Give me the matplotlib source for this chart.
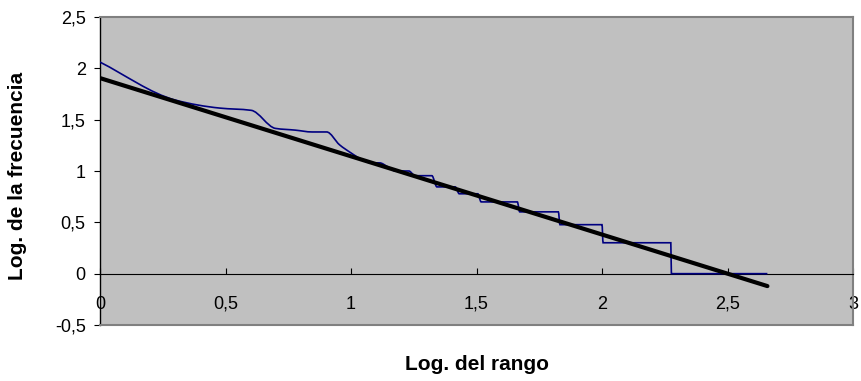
import numpy as np
import matplotlib
matplotlib.use("Agg")
import matplotlib.pyplot as plt
from matplotlib.path import Path
from matplotlib.patches import PathPatch

# Rank/frequency data (run-length coded: each frequency
# value and how many consecutive ranks share it)
freq_values = [115, 49, 41, 39, 26, 25, 24, 24, 18, 15, 13, 12, 11, 10, 9,
               7, 6, 5, 4, 3, 2, 1]
run_lengths = [1, 1, 1, 1, 1, 1, 1, 1, 1, 1, 1, 2, 1, 3, 4,
               5, 6, 14, 21, 33, 88, 268]

# Trend line end points (log rank, log frequency)
trend_x = [0.0, 2.659]
trend_y = [1.905, -0.121]

x_ticks = [0, 0.5, 1, 1.5, 2, 2.5, 3]
y_ticks = [-0.5, 0, 0.5, 1, 1.5, 2, 2.5]

plt.rcParams['font.family'] = ['Liberation Sans', 'DejaVu Sans']

# Expand the runs into one frequency per rank
freq = np.repeat(freq_values, run_lengths)
rank = np.arange(1, len(freq) + 1)
log_rank = np.log10(rank)
log_freq = np.log10(freq)


# Smoothed line (like Excel's "smoothed line") drawn as cubic Bezier pieces
# through the points; tangents are kept monotone so steps don't overshoot
def smooth_path(x, y):
    x = np.asarray(x, float)
    y = np.asarray(y, float)
    d = np.diff(y) / np.diff(x)
    m = np.zeros(len(x))
    m[0] = d[0]
    m[-1] = d[-1]
    for i in range(1, len(x) - 1):
        if d[i - 1] * d[i] > 0:
            m[i] = 2 / (1 / d[i - 1] + 1 / d[i])
    verts = [(x[0], y[0])]
    codes = [Path.MOVETO]
    for i in range(len(x) - 1):
        h = (x[i + 1] - x[i]) / 3
        verts += [(x[i] + h, y[i] + m[i] * h),
                  (x[i + 1] - h, y[i + 1] - m[i + 1] * h),
                  (x[i + 1], y[i + 1])]
        codes += [Path.CURVE4] * 3
    return Path(verts, codes)


fig = plt.figure(figsize=(8.62, 3.81), dpi=100)
ax = fig.add_axes([100 / 862, 56 / 381, 753 / 862, 308 / 381])
ax.set_facecolor('#C0C0C0')

ax.add_patch(PathPatch(smooth_path(log_rank, log_freq), fill=False,
                       edgecolor='#000080', lw=1.2, zorder=3))
ax.plot(trend_x, trend_y, color='black', lw=3, solid_capstyle='round', zorder=4)

ax.set_xlim(0, 3)
ax.set_ylim(-0.5, 2.5)

# Frame: grey border, black y axis, x axis crossing at y = 0
for side in ['top', 'right']:
    ax.spines[side].set_color('#808080')
    ax.spines[side].set_linewidth(1.5)
ax.spines['left'].set_color('black')
ax.spines['left'].set_linewidth(1.0)
ax.spines['bottom'].set_position(('data', 0))
ax.spines['bottom'].set_color('black')
ax.spines['bottom'].set_linewidth(0.8)
ax.axhline(-0.5, color='#808080', lw=1.5, zorder=5, clip_on=False)

ax.set_xticks(x_ticks)
ax.set_xticklabels([str(t).replace('.', ',') for t in x_ticks])
ax.set_yticks(y_ticks)
ax.set_yticklabels([('%g' % t).replace('.', ',') for t in y_ticks])
ax.tick_params(axis='x', direction='in', length=4, width=0.8, pad=16,
               labelsize=13)
ax.tick_params(axis='y', direction='out', length=4.3, width=0.8, pad=6,
               labelsize=13)

fig.text(18 / 862, 1 - 176 / 381, 'Log. de la frecuencia', rotation=90,
         ha='center', va='center', fontsize=15, fontweight='bold')
fig.text(477 / 862, 1 - 364 / 381, 'Log. del rango',
         ha='center', va='center', fontsize=15, fontweight='bold')

fig.savefig('out.png', dpi=100)
